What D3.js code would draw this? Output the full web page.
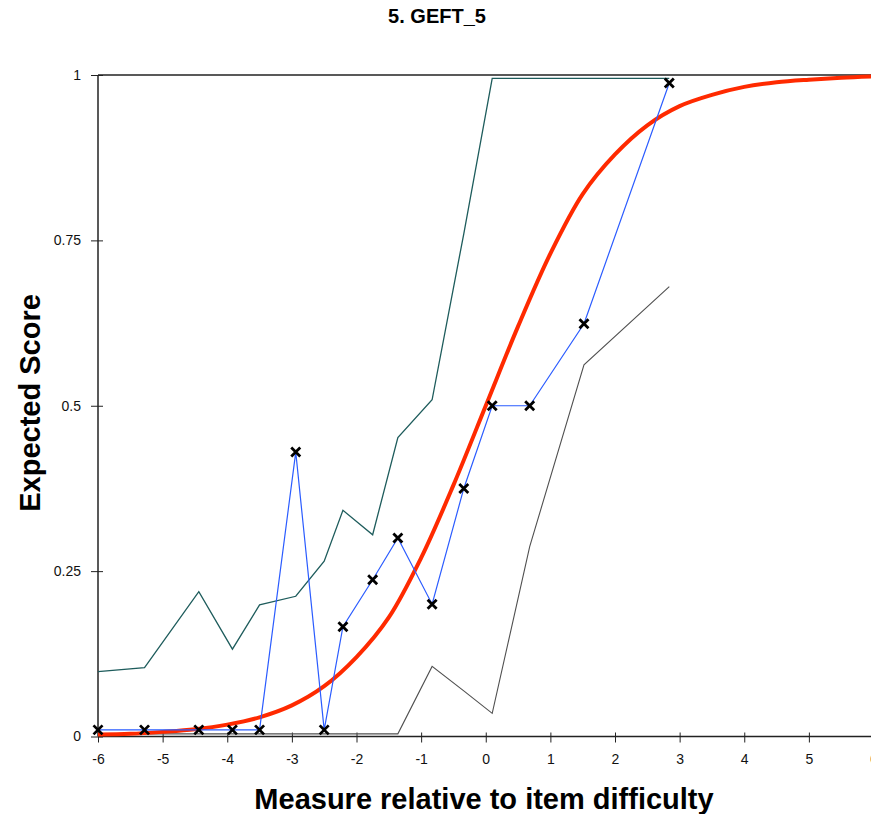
<!DOCTYPE html>
<html>
<head>
<meta charset="utf-8">
<script src="https://cdn.jsdelivr.net/npm/d3@7"></script>
<style>
  body { margin: 0; background: #fff; }
  svg { display: block; font-family: "Liberation Sans", Arial, sans-serif; }
</style>
</head>
<body>
<div id="chart"></div>
<script>
// x positions of the observed groups
var measures = [-6, -5.28, -4.44, -3.92, -3.5, -2.94, -2.5, -2.21, -1.75, -1.36, -0.83, -0.34, 0.10, 0.68, 1.52, 2.84];
// observed mean scores (blue, with x marks)
var observed = [0.01, 0.01, 0.01, 0.01, 0.01, 0.43, 0.01, 0.166, 0.237, 0.30, 0.20, 0.375, 0.50, 0.50, 0.624, 0.988];
// upper confidence band (teal)
var upperBand = [0.098, 0.104, 0.219, 0.132, 0.199, 0.212, 0.265, 0.342, 0.305, 0.452, 0.509, 0.76, 0.995, 0.995, 0.995, 0.995];
// lower confidence band (gray)
var lowerBand = [0.004, 0.004, 0.004, 0.004, 0.004, 0.004, 0.004, 0.004, 0.004, 0.004, 0.106, 0.069, 0.035, 0.287, 0.562, 0.68];
// model expected score curve (red), read at half steps
var curveX = [-6, -5.5, -5, -4.5, -4, -3.5, -3, -2.5, -2, -1.5, -1, -0.5, 0, 0.5, 1, 1.5, 2, 2.5, 3, 3.5, 4, 4.5, 5, 5.5, 6];
var curveY = [0.003, 0.004, 0.007, 0.011, 0.018, 0.029, 0.047, 0.076, 0.12, 0.18, 0.27, 0.38, 0.5, 0.62, 0.73, 0.82, 0.88, 0.924, 0.953, 0.97, 0.982, 0.989, 0.993, 0.996, 0.998];

var xTicks = [-6, -5, -4, -3, -2, -1, 0, 1, 2, 3, 4, 5, 6];
var yTicks = [0, 0.25, 0.5, 0.75, 1];

var width = 871, height = 814;
var svg = d3.select("#chart").append("svg")
    .attr("width", width)
    .attr("height", height);

var x = d3.scaleLinear().domain([-6, 6]).range([98, 873.5]);
var y = d3.scaleLinear().domain([0, 1]).range([736.5, 75]);

// title
svg.append("text")
    .attr("x", 437).attr("y", 23)
    .attr("text-anchor", "middle")
    .style("font-size", "20px").style("font-weight", "bold")
    .text("5. GEFT_5");

// top frame line at 1
svg.append("line")
    .attr("x1", x(-6)).attr("x2", 871)
    .attr("y1", y(1)).attr("y2", y(1))
    .attr("stroke", "#222").attr("stroke-width", 1.5);

// axes
var xAxis = svg.append("g")
    .attr("transform", "translate(0," + y(0) + ")")
    .call(d3.axisBottom(x).tickValues(xTicks).tickFormat(d => String(d)).tickSize(6).tickPadding(12));
xAxis.select(".domain").attr("d", "M" + x(-6) + ",0H871").attr("stroke", "#222").attr("stroke-width", 1.5);
xAxis.selectAll(".tick line").attr("y1", -4).attr("y2", 6).attr("stroke", "#222");
xAxis.selectAll(".tick text").style("font-size", "14px").attr("fill", "#111");

var yAxis = svg.append("g")
    .attr("transform", "translate(" + x(-6) + ",0)")
    .call(d3.axisLeft(y).tickValues(yTicks).tickFormat(d => String(d)).tickSize(6).tickPadding(11));
yAxis.select(".domain").attr("d", "M0," + y(0) + "V" + y(1)).attr("stroke", "#222").attr("stroke-width", 1.5);
yAxis.selectAll(".tick line").attr("x1", -7).attr("x2", 5).attr("stroke", "#222");
yAxis.selectAll(".tick text").style("font-size", "14px").attr("fill", "#111");

var pts = function (ys) { return measures.map(function (m, i) { return [m, ys[i]]; }); };
var line = d3.line().x(d => x(d[0])).y(d => y(d[1]));

svg.append("path").datum(pts(lowerBand))
    .attr("d", line).attr("fill", "none")
    .attr("stroke", "#505050").attr("stroke-width", 1.1);

svg.append("path").datum(pts(upperBand))
    .attr("d", line).attr("fill", "none")
    .attr("stroke", "#1e5c5c").attr("stroke-width", 1.3);

// model curve
svg.append("path").datum(curveX.map(function (v, i) { return [v, curveY[i]]; }))
    .attr("d", d3.line().x(d => x(d[0])).y(d => y(d[1])).curve(d3.curveCatmullRom))
    .attr("fill", "none")
    .attr("stroke", "#ff2a00").attr("stroke-width", 4);

svg.append("path").datum(pts(observed))
    .attr("d", line).attr("fill", "none")
    .attr("stroke", "#2b5cff").attr("stroke-width", 1.2);

// x markers
var s = 4.5;
svg.selectAll(".mark")
    .data(pts(observed))
    .enter().append("path")
    .attr("class", "mark")
    .attr("d", d => "M" + (x(d[0]) - s) + "," + (y(d[1]) - s) + "L" + (x(d[0]) + s) + "," + (y(d[1]) + s) +
                    "M" + (x(d[0]) - s) + "," + (y(d[1]) + s) + "L" + (x(d[0]) + s) + "," + (y(d[1]) - s))
    .attr("stroke", "#000").attr("stroke-width", 2.8);

// axis titles
svg.append("text")
    .attr("x", 484).attr("y", 809)
    .attr("text-anchor", "middle")
    .style("font-size", "29px").style("font-weight", "bold")
    .text("Measure relative to item difficulty");

svg.append("text")
    .attr("transform", "translate(40,403) rotate(-90)")
    .attr("text-anchor", "middle")
    .style("font-size", "29px").style("font-weight", "bold")
    .text("Expected Score");
</script>
</body>
</html>
